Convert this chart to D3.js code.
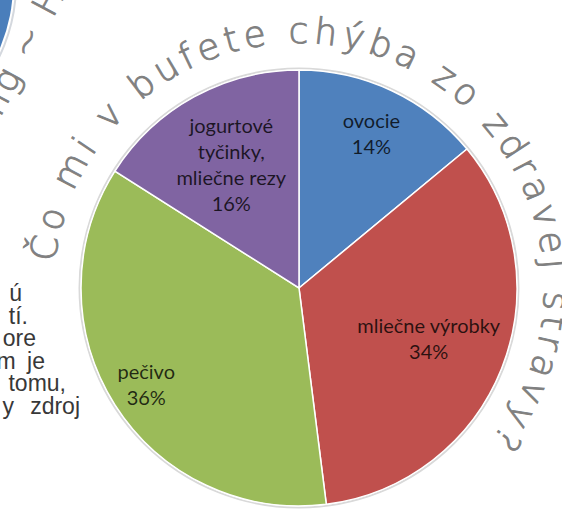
<!DOCTYPE html>
<html lang="sk">
<head>
<meta charset="utf-8">
<title>Čo mi v bufete chýba zo zdravej stravy?</title>
<script src="https://cdn.jsdelivr.net/npm/d3@7"></script>
<style>
  body { margin: 0; background: #fff; }
  svg { display: block; }
  .lbl { font-family: Lato, "Open Sans", sans-serif; font-size: 20px; fill: #000; fill-opacity: .78; }
  .hand { font-family: "DejaVu Sans", sans-serif; font-size: 36px; font-weight: 200; fill: #808080; stroke: #808080; stroke-width: 0.9px; }
  .body-text { font-family: "Liberation Sans", Arial, sans-serif; font-size: 23px; fill: #383838; }
</style>
</head>
<body>
<svg width="562" height="513"></svg>
<script>
// data
var categories = ["ovocie", "mliečne výrobky", "pečivo", "jogurtové tyčinky, mliečne rezy"];
var labelLines = [["ovocie"], ["mliečne výrobky"], ["pečivo"], ["jogurtové", "tyčinky,", "mliečne rezy"]];
var values = [14, 34, 36, 16];
var colors = ["#4f81bd", "#c0504d", "#9bbb59", "#8064a2"];
var title = "Čo mi v bufete chýba zo zdravej stravy?";
var sideText = ["ú", "tí.", "ore", "m\u2002je", "tomu,", "y\u2002\u2009zdroj"];

// layout
var cx = 299, cy = 288, r = 218;
var labelDist = [0.78, 0.64, 0.83, 0.645];
var sideRight = [22, 28, 36, 45, 66, 80];

var svg = d3.select("svg");

// bits of the surrounding page
svg.append("circle")
  .attr("cx", -150).attr("cy", -16).attr("r", 166)
  .attr("fill", "#fff").attr("stroke", "#d4d8de").attr("stroke-width", 2);
svg.append("circle")
  .attr("cx", -150).attr("cy", -16).attr("r", 163)
  .attr("fill", "#4a7ebb");

svg.append("text")
  .attr("class", "hand")
  .attr("transform", "translate(0,118) rotate(-62)")
  .attr("letter-spacing", 3)
  .text("ng ~ H");

svg.append("g").selectAll("text")
  .data(sideText)
  .join("text")
  .attr("class", "body-text")
  .attr("text-anchor", "end")
  .attr("x", function (d, i) { return sideRight[i]; })
  .attr("y", function (d, i) { return 301 + i * 22.6; })
  .text(function (d) { return d; });

// pie
var pie = d3.pie().sort(null).value(function (d) { return d; });
var arc = d3.arc().innerRadius(0).outerRadius(r);
var arcs = pie(values);

var g = svg.append("g").attr("transform", "translate(" + cx + "," + cy + ")");

g.append("circle")
  .attr("r", r + 1.5)
  .attr("fill", "none")
  .attr("stroke", "#d9d9d9")
  .attr("stroke-width", 2);

g.selectAll("path.slice")
  .data(arcs)
  .join("path")
  .attr("class", "slice")
  .attr("d", arc)
  .attr("fill", function (d, i) { return colors[i]; })
  .attr("stroke", "#fff")
  .attr("stroke-width", 1.5);

var lh = 26;
g.selectAll("text.lbl")
  .data(arcs)
  .join("text")
  .attr("class", "lbl")
  .attr("text-anchor", "middle")
  .each(function (d, i) {
    var mid = (d.startAngle + d.endAngle) / 2;
    var dist = labelDist[i] * r;
    var x = Math.sin(mid) * dist, y = -Math.cos(mid) * dist;
    var lines = labelLines[i].concat([values[i] + "%"]);
    var y0 = y - (lines.length - 1) * lh / 2 + 7;
    d3.select(this).selectAll("tspan")
      .data(lines)
      .join("tspan")
      .attr("x", x)
      .attr("y", function (t, j) { return y0 + j * lh; })
      .text(function (t) { return t; });
  });

// handwritten title running round the pie
var a0 = -84 * Math.PI / 180, a1 = 128 * Math.PI / 180, tr = 245;
var p = d3.path();
p.moveTo(cx + tr * Math.sin(a0), cy - tr * Math.cos(a0));
p.arc(cx, cy, tr, a0 - Math.PI / 2, a1 - Math.PI / 2, false);
svg.append("defs").append("path").attr("id", "titleArc").attr("d", p.toString());

var probe = svg.append("text").attr("class", "hand").text(title);
var natural = probe.node().getComputedTextLength();
probe.remove();
var arcLen = tr * (a1 - a0);
var spacing = (arcLen - natural) / (title.length - 1);

svg.append("text")
  .attr("class", "hand")
  .attr("letter-spacing", spacing)
  .append("textPath")
  .attr("href", "#titleArc")
  .text(title);
</script>
</body>
</html>
